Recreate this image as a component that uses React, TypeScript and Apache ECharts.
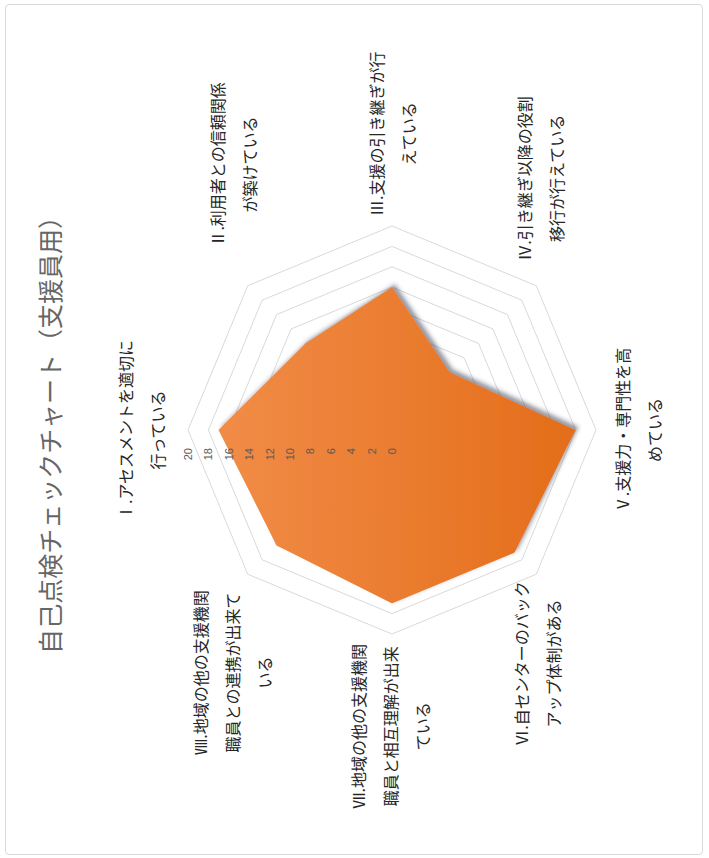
import React, { useEffect, useRef } from 'react';
import * as echarts from 'echarts';

const titleText = '自己点検チェックチャート（支援員用）';
const categories = [
  'Ⅰ.アセスメントを適切に\n行っている',
  'Ⅱ.利用者との信頼関係\nが築けている',
  'Ⅲ.支援の引き継ぎが行\nえている',
  'Ⅳ.引き継ぎ以降の役割\n移行が行えている',
  'Ⅴ.支援力・専門性を高\nめている',
  'Ⅵ.自センターのバック\nアップ体制がある',
  'Ⅶ.地域の他の支援機関\n職員と相互理解が出来\nている',
  'Ⅷ.地域の他の支援機関\n職員との連携が出来て\nいる',
];
const values = [17, 12, 14, 8, 18, 17, 17, 16];
const axisMin = 0;
const axisMax = 20;
const axisSplit = 10;

// ECharts places indicators counter-clockwise; the chart runs clockwise.
const order = [0, 7, 6, 5, 4, 3, 2, 1];
// small per-label nudges (padding) to match the reference layout
const namePads: Record<number, number[]> = {
  0: [0, 0, 5, 0],
  1: [0, 0, 16, 32],
  3: [0, 0, 6, 18],
  5: [0, 0, 12, 0],
  6: [0, 0, 4, 0],
  7: [0, 9, 18, 0],
};

const baseRadar = {
  center: [428, 392],
  radius: 204,
  startAngle: 90,
  shape: 'polygon',
  splitNumber: axisSplit,
};

export default function App() {
  const ref = useRef<HTMLDivElement>(null);
  useEffect(() => {
    const chart = echarts.init(ref.current!, null, { renderer: 'svg' });
    const indicator = order.map((i) => {
      const ind: any = { name: categories[i], min: axisMin, max: axisMax };
      if (namePads[i]) ind.nameTextStyle = { padding: namePads[i] };
      return ind;
    });
    const labelIndicator = order.map((i) => {
      const ind: any = { name: '', min: axisMin, max: axisMax };
      if (i === 0) {
        ind.axisLabel = {
          show: true,
          fontSize: 11,
          color: '#595959',
          margin: 18,
          showMinLabel: true,
          showMaxLabel: true,
        };
      }
      return ind;
    });
    chart.setOption({
      animation: false,
      backgroundColor: 'transparent',
      title: {
        text: titleText,
        left: 'center',
        top: 36,
        padding: 0,
        textStyle: {
          fontFamily: 'Noto Sans CJK JP',
          fontSize: 25,
          fontWeight: 'normal',
          color: '#666666',
        },
      },
      radar: [
        {
          ...baseRadar,
          z: 0,
          axisNameGap: 10,
          axisName: {
            color: '#262626',
            fontFamily: 'Noto Sans CJK JP',
            fontSize: 16,
            formatter: (name: string) =>
              name
                .split('\n')
                .map((l) => `{c|${l}}`)
                .join('\n'),
            rich: {
              c: {
                align: 'center',
                fontSize: 16,
                lineHeight: 32,
                color: '#262626',
                fontFamily: 'Noto Sans CJK JP',
              },
            },
          },
          axisLine: { show: false },
          axisTick: { show: false },
          axisLabel: { show: false },
          splitArea: { show: false },
          splitLine: { lineStyle: { color: '#d9d9d9', width: 1 } },
          indicator,
        },
        {
          ...baseRadar,
          z: 10,
          axisName: { show: false },
          axisLine: { show: false },
          axisTick: { show: false },
          axisLabel: { show: false },
          splitArea: { show: false },
          splitLine: { show: false },
          indicator: labelIndicator,
        },
      ],
      series: [
        {
          type: 'radar',
          radarIndex: 0,
          symbol: 'none',
          lineStyle: { width: 0 },
          areaStyle: {
            color: new echarts.graphic.LinearGradient(0, 0, 0, 1, [
              { offset: 0, color: '#f18c47' },
              { offset: 1, color: '#e46d1a' },
            ]),
            opacity: 1,
            shadowColor: 'rgba(40,50,70,0.5)',
            shadowBlur: 4,
            shadowOffsetX: 3,
            shadowOffsetY: 3,
          },
          data: [{ value: order.map((i) => values[i]), name: '自己点検' }],
        },
      ],
    });
    return () => chart.dispose();
  }, []);
  return (
    <div
      style={{
        position: 'fixed',
        left: 0,
        top: 0,
        width: 709,
        height: 858,
        background: '#ffffff',
        overflow: 'hidden',
      }}
    >
      <div
        style={{
          position: 'absolute',
          left: 5,
          top: 4,
          width: 698,
          height: 851,
          border: '1px solid #d9d9d9',
          borderRadius: 4,
          boxSizing: 'border-box',
        }}
      />
      <div
        ref={ref}
        style={{
          position: 'absolute',
          left: 0,
          top: 0,
          width: 858,
          height: 709,
          transformOrigin: '0 0',
          transform: 'translate(0px, 858px) rotate(-90deg)',
        }}
      />
    </div>
  );
}
